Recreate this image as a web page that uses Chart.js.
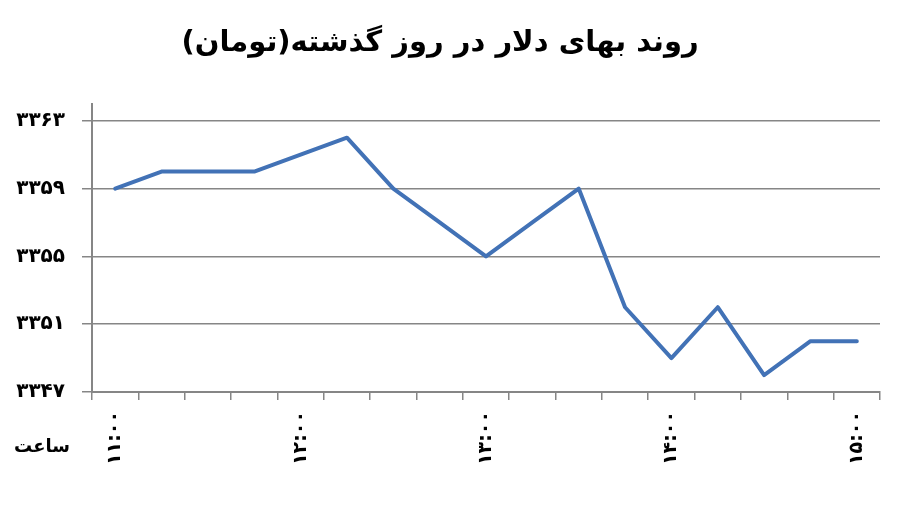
<!DOCTYPE html>
<html>
<head>
<meta charset="utf-8">
<script src="https://cdn.jsdelivr.net/npm/chart.js@4/dist/chart.umd.min.js"></script>
<style>
  html, body { margin: 0; padding: 0; background: #fff; }
</style>
</head>
<body>
<canvas id="myChart" dir="rtl" width="900" height="507"></canvas>
<script>
// 15-minute readings from 11:00 to 15:00
var times = ['۱۱:۰۰', '۱۱:۱۵', '۱۱:۳۰', '۱۱:۴۵', '۱۲:۰۰', '۱۲:۱۵', '۱۲:۳۰', '۱۲:۴۵',
             '۱۳:۰۰', '۱۳:۱۵', '۱۳:۳۰', '۱۳:۴۵', '۱۴:۰۰', '۱۴:۱۵', '۱۴:۳۰', '۱۴:۴۵', '۱۵:۰۰'];
var prices = [3359, 3360, 3360, 3360, 3361, 3362, 3359, 3357,
              3355, 3357, 3359, 3352, 3349, 3352, 3348, 3350, 3350];
var shownTimes = ['۱۱:۰۰', '۱۲:۰۰', '۱۳:۰۰', '۱۴:۰۰', '۱۵:۰۰'];
var yTicks = [3347, 3351, 3355, 3359, 3363];

var titleText = 'روند بهای دلار در روز گذشته(تومان)';
var xName = 'ساعت';

function toFa(n) {
  var d = '۰۱۲۳۴۵۶۷۸۹';
  return String(n).replace(/[0-9]/g, function (c) { return d[+c]; });
}

var gray = '#868686';
var fontFam = '"DejaVu Sans", sans-serif';

var xNamePlugin = {
  id: 'xName',
  afterDraw: function (chart) {
    var ctx = chart.ctx;
    ctx.save();
    ctx.font = 'bold 18px ' + fontFam;
    ctx.fillStyle = '#000';
    ctx.textAlign = 'center';
    ctx.textBaseline = 'middle';
    ctx.fillText(xName, 42, 447);
    ctx.restore();
  }
};

var ctx = document.getElementById('myChart').getContext('2d');
var myChart = new Chart(ctx, {
  type: 'line',
  data: {
    labels: times,
    datasets: [{
      data: prices,
      borderColor: '#4272b6',
      borderWidth: 4,
      pointRadius: 0,
      tension: 0,
      borderJoinStyle: 'round',
      borderCapStyle: 'round',
      fill: false
    }]
  },
  options: {
    responsive: false,
    animation: false,
    devicePixelRatio: 1,
    layout: { padding: { left: 0, right: 20, top: 0, bottom: 0 } },
    plugins: {
      legend: { display: false },
      tooltip: { enabled: false },
      title: {
        display: true,
        text: titleText,
        color: '#000',
        font: { family: fontFam, size: 29, weight: 'bold' },
        padding: { top: 26, bottom: 43 }
      }
    },
    scales: {
      x: {
        type: 'category',
        offset: true,
        grid: { offset: true, drawOnChartArea: false, drawTicks: true, tickLength: 8, color: gray, lineWidth: 1.5 },
        border: { color: gray, width: 2 },
        ticks: {
          autoSkip: false,
          maxRotation: 90,
          minRotation: 90,
          padding: 11,
          color: '#000',
          font: { family: fontFam, size: 19, weight: 'bold' },
          callback: function (v, i) {
            var t = times[i];
            return shownTimes.indexOf(t) >= 0 ? t : '';
          }
        },
        afterFit: function (s) { s.height = 115; }
      },
      y: {
        min: 3347,
        max: 3364,
        afterBuildTicks: function (s) {
          s.ticks = yTicks.map(function (v) { return { value: v }; });
        },
        grid: { color: gray, lineWidth: 1.5, tickLength: 10 },
        border: { color: gray, width: 2 },
        ticks: {
          padding: 17,
          color: '#000',
          font: { family: fontFam, size: 20, weight: 'bold' },
          callback: function (v) { return toFa(v); }
        },
        afterFit: function (s) { s.width = 92; }
      }
    }
  },
  plugins: [xNamePlugin]
});
</script>
</body>
</html>
